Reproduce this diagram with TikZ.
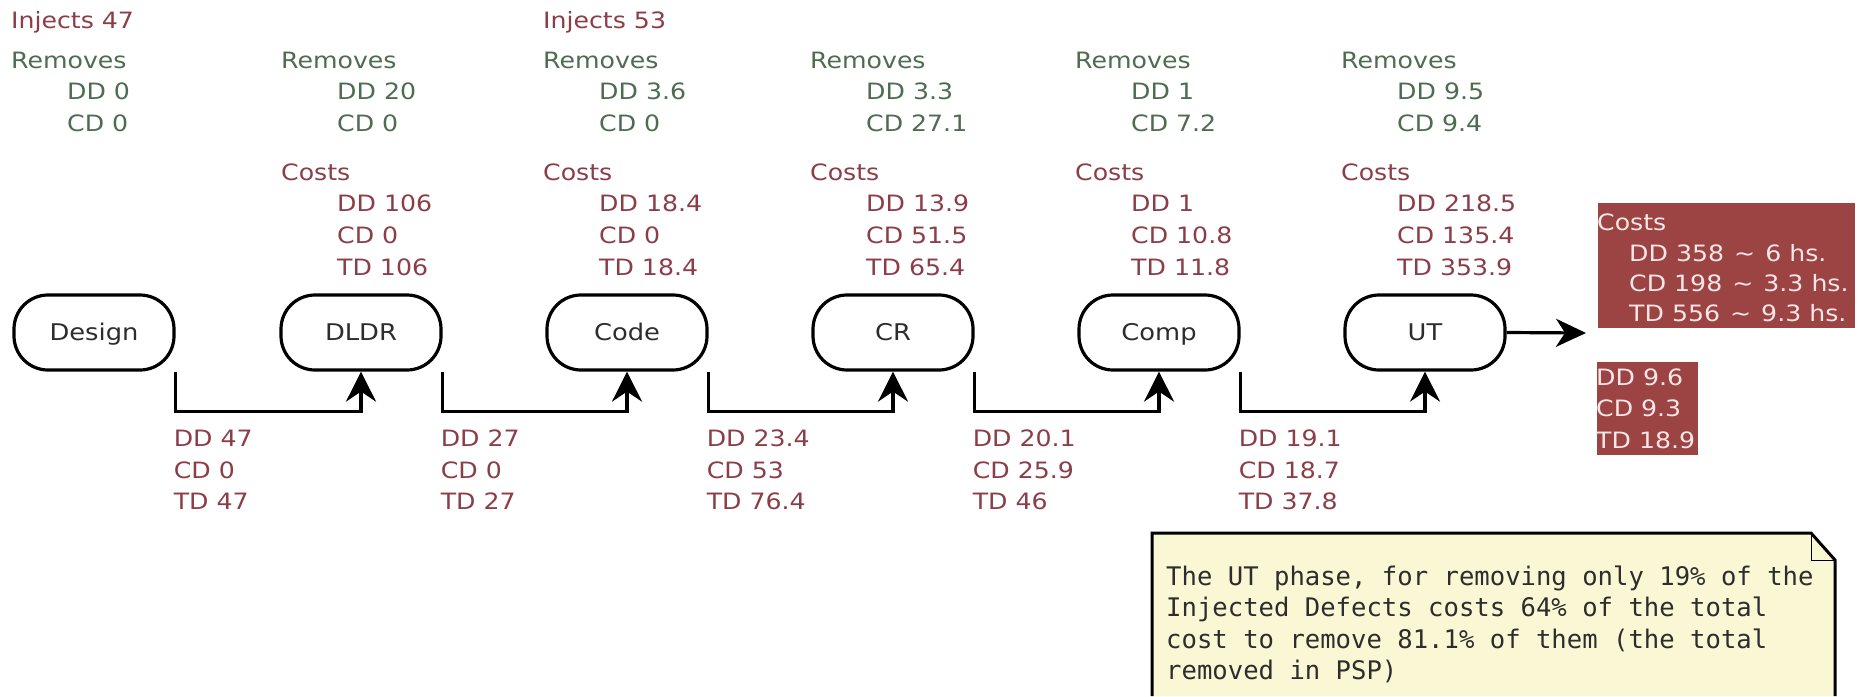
\documentclass[tikz,border=0pt]{standalone}
\usepackage{fontspec}
\setmainfont{DejaVu Sans}[FakeStretch=1.12]
\setmonofont{DejaVu Sans Mono}
\usetikzlibrary{arrows.meta}
\definecolor{tred}{RGB}{140,62,72}
\definecolor{tgreen}{RGB}{78,108,80}
\definecolor{boxred}{RGB}{156,68,68}
\definecolor{boxtext}{RGB}{250,230,230}
\definecolor{notefill}{RGB}{250,248,212}
\definecolor{ntext}{RGB}{45,45,45}
\newcommand\tildesep{\ \kern2pt\textasciitilde\kern2pt\ }
\begin{document}
\begin{tikzpicture}[x=1pt,y=-1pt,
  lbl/.style={anchor=base west, inner sep=0pt, font=\fontsize{22.5}{26}\selectfont},
  rtxt/.style={lbl, text=tred},
  gtxt/.style={lbl, text=tgreen},
  btxt/.style={lbl, text=boxtext},
  notetxt/.style={anchor=base west, inner sep=0pt, text=ntext, font=\ttfamily\fontsize{25.6}{30}\selectfont},
  phase/.style={draw, line width=3.2pt, rounded corners=34pt, minimum width=160pt, minimum height=75pt,
     inner sep=0pt, text height=16pt, text depth=0pt, text=ntext, font=\fontsize{23}{26}\selectfont},
  conn/.style={line width=3.2pt, -{Stealth[length=30pt,width=30pt,inset=10pt]}},
  fillbox/.style={fill=boxred, inner sep=0pt, anchor=north west},
]
\useasboundingbox (0,0) rectangle (1862,696);
\fill[white] (0,0) rectangle (1862,696);

% phases
\node[phase] (design) at (94,332.5) {Design};
\node[phase] (dldr) at (361,332.5) {DLDR};
\node[phase] (code) at (627,332.5) {Code};
\node[phase] (cr) at (893,332.5) {CR};
\node[phase] (comp) at (1159,332.5) {Comp};
\node[phase] (ut) at (1425,332.5) {UT};

% connectors
\foreach \a/\b in {design/dldr, dldr/code, code/cr, cr/comp, comp/ut}
  \draw[conn] (\a.south east) -- ++(0,40) -| (\b.south);

% injects
\node[rtxt] (inj1) at (11,28) {Injects 47};
\node[rtxt] (inj3) at (543,28) {Injects 53};

% removes
\foreach \n/\x/\rd/\rc in {c1/11/0/0, c2/281/20/0, c3/543/3.6/0, c4/810/3.3/27.1, c5/1075/1/7.2, c6/1341/9.5/9.4} {
  \node[gtxt] (\n rem) at (\x,68) {Removes};
  \node[gtxt] (\n rdd) at (\x+56,99.7) {DD \rd};
  \node[gtxt] (\n rcd) at (\x+56,131.4) {CD \rc};
}

% costs
\foreach \n/\x/\cd/\cc/\ct in {c2/281/106/0/106, c3/543/18.4/0/18.4, c4/810/13.9/51.5/65.4, c5/1075/1/10.8/11.8, c6/1341/218.5/135.4/353.9} {
  \node[rtxt] (\n cost) at (\x,180) {Costs};
  \node[rtxt] (\n cdd) at (\x+56,211.7) {DD \cd};
  \node[rtxt] (\n ccd) at (\x+56,243.4) {CD \cc};
  \node[rtxt] (\n ctd) at (\x+56,275.1) {TD \ct};
}

% flow labels
\foreach \a/\dd/\cd/\td in {design/47/0/47, dldr/27/0/27, code/23.4/53/76.4, cr/20.1/25.9/46, comp/19.1/18.7/37.8} {
  \node[rtxt] (\a fdd) at ([shift={(-2,75)}]\a.south east) {DD \dd};
  \node[rtxt] (\a fcd) at ([shift={(-2,107)}]\a.south east) {CD \cd};
  \node[rtxt] (\a ftd) at ([shift={(-2,138)}]\a.south east) {TD \td};
}

% output arrow
\coordinate (costtip) at (1586,333);
\draw[line width=3.2pt, -{Stealth[length=30pt,width=28pt,inset=9pt]}] (ut.east) -- (costtip);

% total costs box
\node[fillbox, minimum width=257pt, minimum height=125pt] (costbox) at (1598,203) {};
\node[btxt] (tcost) at (1597,230) {Costs};
\node[btxt] (tdd) at (1629,261) {DD 358\tildesep 6 hs.};
\node[btxt] (tcd) at (1629,291) {CD 198\tildesep 3.3 hs.};
\node[btxt] (ttd) at (1629,321) {TD 556\tildesep 9.3 hs.};

% small box
\node[fillbox, minimum width=101pt, minimum height=93pt] (smallbox) at (1597,362) {};
\node[btxt] (sdd) at (1596,385) {DD 9.6};
\node[btxt] (scd) at (1596,416) {CD 9.3};
\node[btxt] (std) at (1596,448) {TD 18.9};

% note
\fill[notefill] (1152,533) -- (1811,533) -- (1835,560) -- (1835,696) -- (1152,696) -- cycle;
\draw[line width=3pt] (1152,696) -- (1152,533) -- (1811,533) -- (1835,560) -- (1835,696);
\draw[line width=1pt] (1811,533) -- (1811,560) -- (1835,560);
\node[notetxt] (n1) at (1166,585) {The UT phase, for removing only 19\% of the};
\node[notetxt] (n2) at (1166,616.5) {Injected Defects costs 64\% of the total};
\node[notetxt] (n3) at (1166,648) {cost to remove 81.1\% of them (the total};
\node[notetxt] (n4) at (1166,679.5) {removed in PSP)};
\end{tikzpicture}
\end{document}
